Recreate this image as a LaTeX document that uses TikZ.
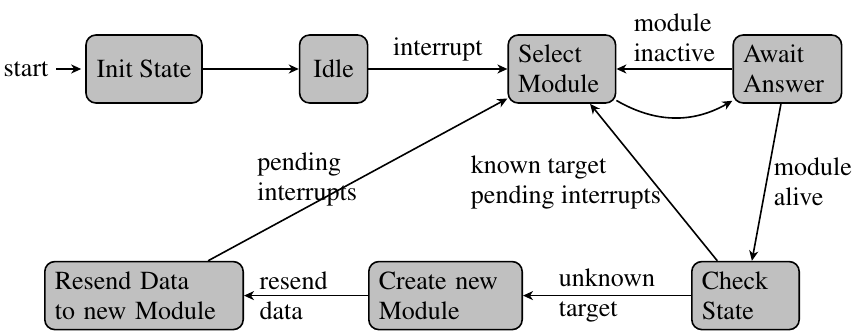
\documentclass[tikz,border=0pt]{standalone}
\usepackage[T1]{fontenc}
\usepackage{mathptmx}
\usepackage{tikz}
\usetikzlibrary{positioning,arrows.meta}
\definecolor{StateGray}{HTML}{C0C0C0}

\begin{document}
\begin{tikzpicture}[>={Stealth[length=5pt,width=4.5pt,inset=1.5pt]},
                    font=\fontsize{13}{15}\selectfont, line width=0.8pt,
                    every node/.style={align=left},
                    stbox/.style={draw, rounded corners=5pt, fill=StateGray,
                                  minimum height=34pt, inner xsep=5pt}]
\useasboundingbox (0,0) rectangle (429pt,166pt);
\node[stbox, minimum width=58pt] (init) at (72pt,131.5pt) {Init State};
\node[left=14.5pt of init, inner sep=3.5pt] (start) {start};
\node[stbox, minimum width=34pt, right=48pt of init] (idle) {Idle};
\node[stbox, text width=43.7pt, right=69.5pt of idle] (select) {Select\\Module};
\node[stbox, text width=44.2pt, right=58pt of select] (await) {Await\\Answer};
\node[stbox, text width=89.2pt, below=78.5pt of init] (resend) {Resend Data\\to new Module};
\node[stbox, text width=66.7pt, right=62pt of resend] (create) {Create new\\Module};
\node[stbox, text width=43.7pt, right=84pt of create] (check) {Check\\State};
\draw[->, shorten >=2pt] (start) -- (init);
\draw[->] (init) -- (idle);
\draw[->] (idle) -- node[above] (lblint) {interrupt} (select);
\draw[->] (await) -- node[above] (lblinact) {module\\inactive} (select);
\draw[->] (select) to[bend right=30] (await);
\draw[->] (await) -- node[right] (lblalive) {module\\alive} (check);
\draw[->] (check) -- node[left, inner sep=0pt, xshift=4pt] (lblknown) {known target\\pending interrupts} (select);
\draw[->] (check) -- node (lblunknown) {unknown\\target} (create);
\draw[->] (create) -- node[pos=0.6] (lblresend) {resend\\data} (resend);
\draw[->] (resend) -- node[left, inner sep=0pt] (lblpend) {pending\\interrupts} (select);
\end{tikzpicture}
\end{document}
